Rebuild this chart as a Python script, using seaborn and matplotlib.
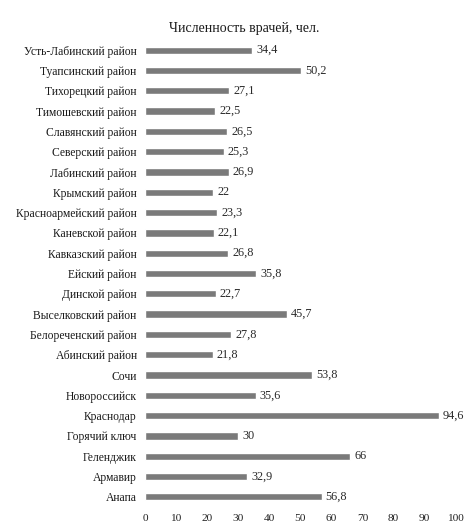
import matplotlib
matplotlib.use("Agg")
import matplotlib.pyplot as plt
import seaborn as sns
import pandas as pd

districts = ["Усть-Лабинский район", "Туапсинский район", "Тихорецкий район",
             "Тимошевский район", "Славянский район", "Северский район",
             "Лабинский район", "Крымский район", "Красноармейский район",
             "Каневской район", "Кавказский район", "Ейский район",
             "Динской район", "Выселковский район", "Белореченский район",
             "Абинский район", "Сочи", "Новороссийск", "Краснодар",
             "Горячий ключ", "Геленджик", "Армавир", "Анапа"]
doctors = [34.4, 50.2, 27.1, 22.5, 26.5, 25.3, 26.9, 22, 23.3, 22.1, 26.8, 35.8,
           22.7, 45.7, 27.8, 21.8, 53.8, 35.6, 94.6, 30, 66, 32.9, 56.8]
x_ticks = [0, 10, 20, 30, 40, 50, 60, 70, 80, 90, 100]

df = pd.DataFrame({"district": districts, "value": doctors})

sns.set_style("white")
plt.rcParams["font.family"] = "serif"
plt.rcParams["font.serif"] = ["Liberation Serif", "DejaVu Serif"]

fig = plt.figure(figsize=(4.65, 5.27), dpi=100)
ax = fig.add_axes([0.312, 0.038, 0.668, 0.886])
sns.barplot(data=df, x="value", y="district", color="#7a7a7a", saturation=1,
            width=0.36, ax=ax)

for i, v in enumerate(doctors):
    ax.text(v + 1.3, i, str(v).replace(".", ","), va="center", ha="left",
            fontsize=8.8, color="#2a2a2a")

ax.set_xlim(0, 100)
ax.set_xticks(x_ticks)
ax.set_xlabel("")
ax.set_ylabel("")
ax.tick_params(axis="x", length=0, labelsize=8.2, colors="#222222", pad=5)
ax.tick_params(axis="y", length=0, labelsize=8.4, colors="#1a1a1a", pad=6)
sns.despine(ax=ax, left=True, bottom=True)
fig.text(0.525, 0.945, "Численность врачей, чел.", ha="center", va="center",
         fontsize=10, color="#1a1a1a")

fig.savefig("out.png", dpi=100)
plt.close()
